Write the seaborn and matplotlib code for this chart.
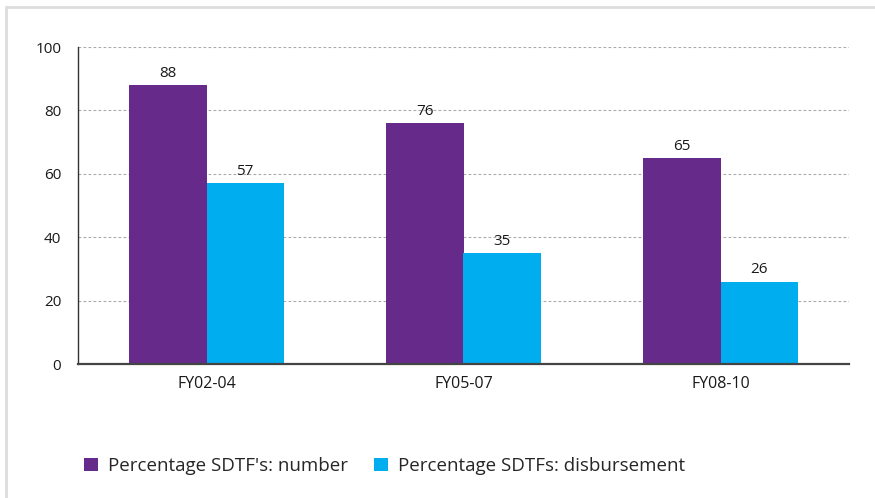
import matplotlib
matplotlib.use("Agg")
import matplotlib.pyplot as plt
import seaborn as sns
import pandas as pd
from matplotlib.patches import Patch
from matplotlib.lines import Line2D

categories = ["FY02-04", "FY05-07", "FY08-10"]
series_names = ["Percentage SDTF's: number", "Percentage SDTFs: disbursement"]
number_vals = [88, 76, 65]
disb_vals = [57, 35, 26]
yticks = [0, 20, 40, 60, 80, 100]
colors = ["#652A8A", "#00AEEF"]

df = pd.DataFrame({
    "period": categories * 2,
    "series": [series_names[0]] * 3 + [series_names[1]] * 3,
    "value": number_vals + disb_vals,
})

sns.set_theme(style="white")
plt.rcParams["font.family"] = ["Open Sans", "DejaVu Sans"]

fig = plt.figure(figsize=(8.75, 4.98), dpi=100)
ax = fig.add_axes([78/875, 1 - 364/498, (849-78)/875, (364-47)/498])

sns.barplot(data=df, x="period", y="value", hue="series", palette=colors,
            width=0.6, gap=0, saturation=1, ax=ax, legend=False, edgecolor="none")

ax.set_ylim(0, 100)
ax.set_xlim(-0.5, 2.5)
ax.set_yticks(yticks)
ax.set_yticklabels([str(t) for t in yticks], fontsize=11, color="#1a1a1a")
ax.set_xticklabels(categories, fontsize=11.5, color="#1a1a1a")
ax.set_xlabel("")
ax.set_ylabel("")
ax.tick_params(axis="y", length=0, pad=12)
ax.tick_params(axis="x", length=0, pad=9)

for t in yticks[1:]:
    ax.axhline(t, color="#aaaaaa", lw=0.8, ls=(0, (2.5, 2)), zorder=0)
ax.set_axisbelow(True)

for s in ["top", "right"]:
    ax.spines[s].set_visible(False)
ax.spines["left"].set_color("#333333")
ax.spines["left"].set_linewidth(1.0)
ax.spines["bottom"].set_color("#444444")
ax.spines["bottom"].set_linewidth(1.6)

for cont in ax.containers:
    ax.bar_label(cont, padding=3, fontsize=11, color="#1a1a1a")

handles = [Patch(facecolor=c, edgecolor="none") for c in colors]
fig.legend(handles, series_names, loc="center left", bbox_to_anchor=(84/875, 1 - 466/498),
           ncol=2, frameon=False, fontsize=13.5, handlelength=0.75, handleheight=0.75,
           handletextpad=0.55, columnspacing=1.35, borderaxespad=0, borderpad=0)

fig.add_artist(Line2D([6/875, 6/875], [0, 1 - 7/498], color="#dddddd", lw=2, transform=fig.transFigure))
fig.add_artist(Line2D([6/875, 1], [1 - 7/498, 1 - 7/498], color="#dddddd", lw=2, transform=fig.transFigure))

fig.savefig("out.png", dpi=100)
